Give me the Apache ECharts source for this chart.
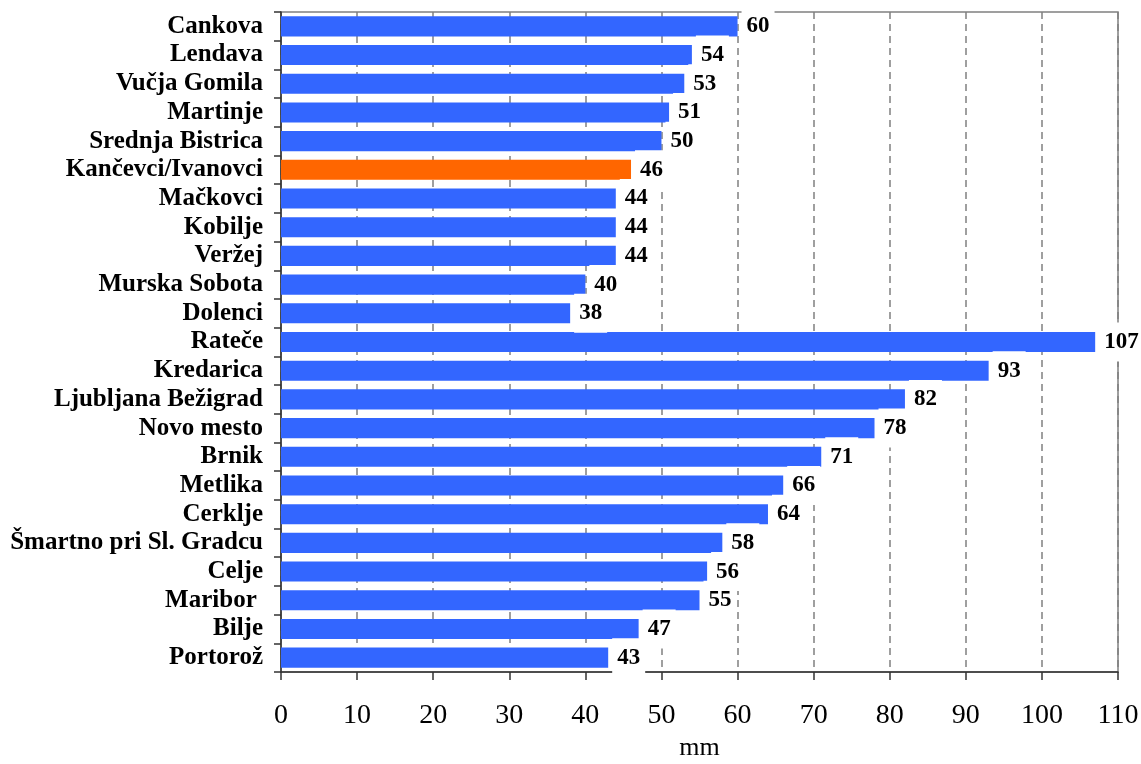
<!DOCTYPE html>
<html>
<head>
<meta charset="utf-8">
<script src="https://cdn.jsdelivr.net/npm/echarts@6/dist/echarts.min.js"></script>
<style>
  html, body { margin: 0; padding: 0; background: #fff; }
  #chart { width: 1141px; height: 764px; }
</style>
</head>
<body>
<div id="chart"></div>
<script>
// Stations, top to bottom
const stations = [
  'Cankova', 'Lendava', 'Vučja Gomila', 'Martinje', 'Srednja Bistrica',
  'Kančevci/Ivanovci', 'Mačkovci', 'Kobilje', 'Veržej', 'Murska Sobota',
  'Dolenci', 'Rateče', 'Kredarica', 'Ljubljana Bežigrad', 'Novo mesto',
  'Brnik', 'Metlika', 'Cerklje', 'Šmartno pri Sl. Gradcu', 'Celje',
  'Maribor ', 'Bilje', 'Portorož'
];
// Precipitation amounts (mm)
const values = [60, 54, 53, 51, 50, 46, 44, 44, 44, 40, 38, 107, 93, 82, 78, 71, 66, 64, 58, 56, 55, 47, 43];
// Station shown in the accent colour
const highlighted = 'Kančevci/Ivanovci';
// Value axis range
const axisMin = 0, axisMax = 110, axisStep = 10;
const axisTitle = 'mm';

const BLUE = '#3366FF';
const ORANGE = '#FF6600';
const SERIF = '"Liberation Serif", "Times New Roman", serif';

const chart = echarts.init(document.getElementById('chart'), null, { renderer: 'canvas' });

chart.setOption({
  animation: false,
  backgroundColor: '#fff',
  grid: {
    left: 281, right: 23, top: 12, bottom: 92,
    containLabel: false,
    outerBoundsMode: 'none',
    show: true, borderColor: '#808080', borderWidth: 1.5, backgroundColor: 'transparent'
  },
  xAxis: {
    type: 'value',
    min: axisMin, max: axisMax, interval: axisStep,
    name: axisTitle, nameLocation: 'middle', nameGap: 63,
    nameTextStyle: { fontFamily: SERIF, fontSize: 26, color: '#000' },
    axisLine: { show: true, lineStyle: { color: '#333', width: 1.5 } },
    axisTick: { show: true, inside: false, length: 8, lineStyle: { color: '#333', width: 1.5 } },
    axisLabel: { fontFamily: SERIF, fontSize: 28, color: '#000', margin: 30 },
    splitLine: { show: true, lineStyle: { color: '#808080', width: 1.5, type: [7, 5] } }
  },
  yAxis: {
    type: 'category',
    data: stations,
    inverse: true,
    axisLine: { show: true, lineStyle: { color: '#333', width: 1.5 } },
    axisTick: { show: true, inside: false, length: 7, interval: 0, lineStyle: { color: '#333', width: 1.5 } },
    axisLabel: { interval: 0, fontFamily: SERIF, fontWeight: 'bold', fontSize: 25, color: '#000', margin: 18 },
    splitLine: { show: false }
  },
  series: [{
    type: 'bar',
    barCategoryGap: '30%',
    data: values.map((v, i) => ({
      value: v,
      itemStyle: { color: stations[i] === highlighted ? ORANGE : BLUE }
    })),
    label: {
      show: true,
      position: 'right',
      distance: 4,
      fontFamily: SERIF,
      fontWeight: 'bold',
      fontSize: 23,
      color: '#000',
      lineHeight: 23,
      backgroundColor: '#fff',
      padding: [8, 5, 8, 5]
    }
  }]
});
</script>
</body>
</html>
